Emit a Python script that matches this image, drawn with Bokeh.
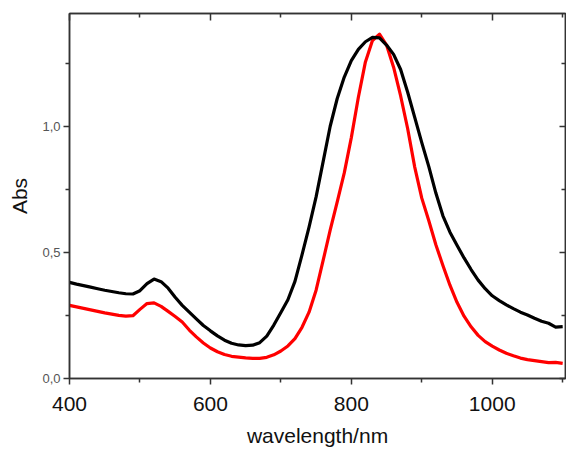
from bokeh.plotting import figure
from bokeh.models import LinearAxis, FixedTicker, Range1d, CustomJSTickFormatter
from bokeh.embed import file_html
from bokeh.resources import INLINE

wavelength = [400, 410, 420, 430, 440, 450, 460, 470, 480, 490,
              500, 510, 520, 530, 540, 550, 560, 570, 580, 590,
              600, 610, 620, 630, 640, 650, 660, 670, 680, 690,
              700, 710, 720, 730, 740, 750, 760, 770, 780, 790,
              800, 810, 820, 830, 840, 850, 860, 870, 880, 890,
              900, 910, 920, 930, 940, 950, 960, 970, 980, 990,
              1000, 1010, 1020, 1030, 1040, 1050, 1060, 1070, 1080, 1090, 1100]

abs_black = [0.381, 0.374, 0.368, 0.362, 0.356, 0.350, 0.345, 0.340, 0.336, 0.335,
             0.348, 0.376, 0.394, 0.384, 0.358, 0.322, 0.290, 0.263, 0.236, 0.210,
             0.189, 0.169, 0.152, 0.140, 0.133, 0.130, 0.132, 0.142, 0.168, 0.212,
             0.262, 0.312, 0.385, 0.490, 0.600, 0.720, 0.860, 1.000, 1.110, 1.195,
             1.260, 1.305, 1.335, 1.352, 1.350, 1.322, 1.285, 1.225, 1.135, 1.035,
             0.935, 0.840, 0.735, 0.645, 0.580, 0.528, 0.478, 0.432, 0.390, 0.356,
             0.328, 0.309, 0.292, 0.277, 0.263, 0.252, 0.239, 0.227, 0.219, 0.204, 0.206]

abs_red = [0.290, 0.284, 0.278, 0.272, 0.266, 0.260, 0.255, 0.250, 0.247, 0.249,
           0.274, 0.297, 0.300, 0.286, 0.266, 0.246, 0.224, 0.192, 0.165, 0.141,
           0.121, 0.106, 0.095, 0.088, 0.085, 0.082, 0.080, 0.080, 0.084, 0.094,
           0.109, 0.129, 0.158, 0.203, 0.263, 0.350, 0.468, 0.588, 0.700, 0.815,
           0.955, 1.115, 1.255, 1.340, 1.365, 1.322, 1.234, 1.120, 0.990, 0.838,
           0.715, 0.625, 0.530, 0.448, 0.370, 0.302, 0.247, 0.205, 0.171, 0.146,
           0.128, 0.113, 0.100, 0.090, 0.081, 0.075, 0.071, 0.067, 0.063, 0.064, 0.060]

x_major = [400, 600, 800, 1000]
x_minor = [500, 700, 900, 1100]
y_major = [0.0, 0.5, 1.0]
y_minor = [0.25, 0.75, 1.25]

FONT = "Liberation Sans"
AX = "#333333"

p = figure(width=566, height=449, x_range=Range1d(400, 1104), y_range=Range1d(0, 1.447),
           output_backend="svg", toolbar_location=None,
           min_border_left=69, min_border_top=13, min_border_bottom=70, min_border_right=1)
p.xgrid.visible = False
p.ygrid.visible = False
p.outline_line_color = AX
p.outline_line_width = 1.5

p.line(wavelength, abs_red, line_color="#ff0000", line_width=3.2, line_join="round")
p.line(wavelength, abs_black, line_color="#000000", line_width=3.2, line_join="round")


def style_ticks(ax):
    ax.axis_line_color = AX
    ax.axis_line_width = 1.5
    ax.major_tick_line_color = AX
    ax.minor_tick_line_color = AX
    ax.major_tick_line_width = 1.5
    ax.minor_tick_line_width = 1.5


xa = p.xaxis[0]
xa.ticker = FixedTicker(ticks=x_major, minor_ticks=x_minor)
xa.axis_label = "wavelength/nm"
xa.axis_label_text_font = FONT
xa.axis_label_text_font_size = "21px"
xa.axis_label_text_font_style = "normal"
xa.axis_label_text_color = "#111111"
xa.axis_label_standoff = 10
xa.major_label_text_font = FONT
xa.major_label_text_font_size = "21px"
xa.major_label_text_color = "#111111"
xa.major_label_standoff = 12
xa.major_tick_out = 6
xa.major_tick_in = 0
xa.minor_tick_out = 4
xa.minor_tick_in = 0
style_ticks(xa)

ya = p.yaxis[0]
ya.ticker = FixedTicker(ticks=y_major, minor_ticks=y_minor)
ya.formatter = CustomJSTickFormatter(code="return tick.toFixed(1).replace('.', ',');")
ya.axis_label = "Abs"
ya.axis_label_text_font = FONT
ya.axis_label_text_font_size = "21px"
ya.axis_label_text_font_style = "normal"
ya.axis_label_text_color = "#111111"
ya.axis_label_standoff = 8
ya.major_label_text_font = FONT
ya.major_label_text_font_size = "13px"
ya.major_label_text_color = "#555555"
ya.major_label_standoff = 3
ya.major_tick_out = 6
ya.major_tick_in = 0
ya.minor_tick_out = 4
ya.minor_tick_in = 0
style_ticks(ya)

blank = CustomJSTickFormatter(code="return '';")

ra = LinearAxis(ticker=FixedTicker(ticks=y_major, minor_ticks=y_minor), formatter=blank,
                major_label_standoff=0,
                major_tick_in=6, major_tick_out=0, minor_tick_in=4, minor_tick_out=0)
style_ticks(ra)
p.add_layout(ra, "right")

ta = LinearAxis(ticker=FixedTicker(ticks=x_major, minor_ticks=x_minor), formatter=blank,
                major_label_standoff=0,
                major_tick_in=7, major_tick_out=0, minor_tick_in=4, minor_tick_out=0)
style_ticks(ta)
p.add_layout(ta, "above")

open("out.html", "w").write(file_html(p, INLINE))
